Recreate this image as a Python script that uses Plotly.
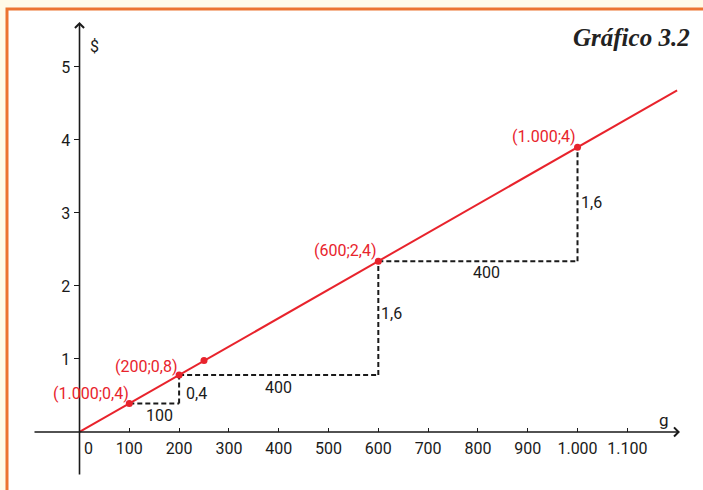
import plotly.graph_objects as go

# ---- data ----
line_x = [0, 1200]
line_y = [0, 4.68]
pts_x = [100, 200, 250, 600, 1000]
pts_y = [0.39, 0.78, 0.98, 2.34, 3.9]
step_x = [100, 200, None, 200, 200, None, 200, 600, None, 600, 600, None, 600, 1000, None, 1000, 1000]
step_y = [0.39, 0.39, None, 0.39, 0.78, None, 0.78, 0.78, None, 0.78, 2.34, None, 2.34, 2.34, None, 2.34, 3.9]
x_ticks = [100, 200, 300, 400, 500, 600, 700, 800, 900, 1000, 1100]
x_tick_labels = ["100", "200", "300", "400", "500", "600", "700", "800", "900", "1.000", "1.100"]
y_ticks = [1, 2, 3, 4, 5]
y_tick_labels = ["1", "2", "3", "4", "5"]
red_labels = ["(1.000;0,4)", "(200;0,8)", "(600;2,4)", "(1.000;4)"]
red_label_x = [23, 134, 535, 932]
red_label_y = [0.53, 0.90, 2.49, 4.05]
step_labels = ["100", "0,4", "400", "1,6", "400", "1,6"]
step_label_x = [160, 234, 399, 626, 818, 1028]
step_label_y = [0.23, 0.53, 0.61, 1.62, 2.19, 3.15]

XMIN, XMAX = -93.4, 1205.8
YMIN, YMAX = -0.603, 5.616

FONT = "Liberation Sans Narrow, Arial Narrow, Roboto, sans-serif"
RED = "#e8232c"
INK = "#1a1a1a"

fig = go.Figure()

fig.add_trace(go.Scatter(x=step_x, y=step_y, mode="lines",
                         line=dict(color=INK, width=2, dash="5px,3px"),
                         hoverinfo="skip", showlegend=False))
fig.add_trace(go.Scatter(x=line_x, y=line_y, mode="lines",
                         line=dict(color=RED, width=2), showlegend=False))
fig.add_trace(go.Scatter(x=pts_x, y=pts_y, mode="markers",
                         marker=dict(color=RED, size=7), showlegend=False))

# axes lines with arrowheads
fig.add_annotation(x=XMAX, y=0, ax=XMIN, ay=0, xref="x", yref="y", axref="x", ayref="y",
                   text="", showarrow=True, arrowhead=4, arrowsize=1.1, arrowwidth=1.6, arrowcolor=INK)
fig.add_annotation(x=0, y=YMAX, ax=0, ay=YMIN, xref="x", yref="y", axref="x", ayref="y",
                   text="", showarrow=True, arrowhead=4, arrowsize=1.1, arrowwidth=1.6, arrowcolor=INK)

for t, x, y in zip(red_labels, red_label_x, red_label_y):
    fig.add_annotation(x=x, y=y, text=t, showarrow=False, xanchor="center", yanchor="middle",
                       font=dict(family=FONT, size=16, color=RED))
for t, x, y in zip(step_labels, step_label_x, step_label_y):
    fig.add_annotation(x=x, y=y, text=t, showarrow=False, xanchor="center", yanchor="middle",
                       font=dict(family=FONT, size=16, color=INK))

# axis names and origin label
fig.add_annotation(x=30.5, y=5.28, text="$", showarrow=False, font=dict(family=FONT, size=16, color=INK))
fig.add_annotation(x=1174, y=0.17, text="g", showarrow=False, font=dict(family=FONT, size=17, color=INK))
fig.add_annotation(x=17.7, y=-0.23, text="0", showarrow=False, font=dict(family=FONT, size=16, color=INK))

# title
fig.add_annotation(xref="paper", yref="paper", x=(692 - 33) / 647, y=(476 - 37) / 454,
                   xanchor="right", yanchor="middle", text="<b><i>Gráfico 3.2</i></b>", showarrow=False,
                   font=dict(family="Liberation Serif, DejaVu Serif, serif", size=25, color="#222"))

# frame
fig.add_shape(type="rect", xref="paper", yref="paper", layer="below",
              x0=(7 - 33) / 647, x1=(730 - 33) / 647, y0=(476 - 520) / 454, y1=(476 - 9) / 454,
              fillcolor="white", line=dict(color="#ec7430", width=3))

fig.update_layout(
    width=703, height=490,
    margin=dict(l=33, r=23, t=22, b=14),
    paper_bgcolor="#fffbe8", plot_bgcolor="rgba(0,0,0,0)",
    xaxis=dict(range=[XMIN, XMAX], showgrid=False, zeroline=False, showline=False,
               tickvals=x_ticks, ticktext=x_tick_labels, ticks="inside", ticklen=4,
               tickcolor=INK, tickwidth=1, anchor="free", position=(0 - YMIN) / (YMAX - YMIN),
               ticklabelstandoff=5,
               tickfont=dict(family=FONT, size=16, color=INK)),
    yaxis=dict(range=[YMIN, YMAX], showgrid=False, zeroline=False, showline=False,
               tickvals=y_ticks, ticktext=y_tick_labels, ticks="outside", ticklen=6,
               tickcolor=INK, tickwidth=1, anchor="free", position=(0 - XMIN) / (XMAX - XMIN),
               tickfont=dict(family=FONT, size=16, color=INK)),
    showlegend=False,
)

fig.write_html("out.html", config={"displayModeBar": False},
               post_script="document.body.style.margin='0';document.body.style.overflow='hidden';")
